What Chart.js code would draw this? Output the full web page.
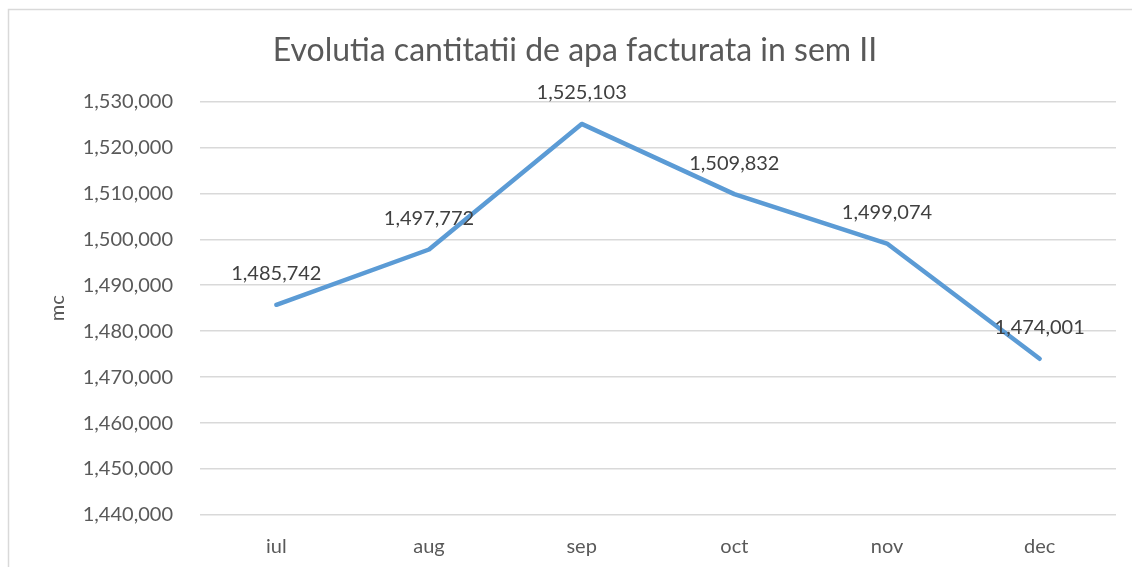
<!DOCTYPE html>
<html>
<head>
<meta charset="utf-8">
<script src="https://cdn.jsdelivr.net/npm/chart.js@4"></script>
<style>
    html, body { margin: 0; padding: 0; background: #fff; }
    #wrap { width: 1132px; height: 567px; }
</style>
</head>
<body>
<div id="wrap"><canvas id="waterChart" width="1132" height="567"></canvas></div>
<script>
// Evolutia cantitatii de apa facturata - semestrul II

const months = ['iul', 'aug', 'sep', 'oct', 'nov', 'dec'];
const volumes = [1485742, 1497772, 1525103, 1509832, 1499074, 1474001];
const yMin = 1440000;
const yMax = 1530000;
const yStep = 10000;

const fmt = v => v.toLocaleString('en-US');

// frame around the chart, like the office chart border
const framePlugin = {
    id: 'frame',
    beforeDraw(chart) {
        const ctx = chart.ctx;
        ctx.save();
        ctx.strokeStyle = '#d9d9d9';
        ctx.lineWidth = 1.5;
        ctx.strokeRect(8.5, 9.5, chart.width + 20, chart.height + 20);
        ctx.restore();
    }
};

// value labels above each point
const valueLabels = {
    id: 'valueLabels',
    afterDatasetsDraw(chart) {
        const ctx = chart.ctx;
        const meta = chart.getDatasetMeta(0);
        ctx.save();
        ctx.font = '20px Lato';
        ctx.fillStyle = '#404040';
        ctx.textAlign = 'center';
        ctx.textBaseline = 'middle';
        meta.data.forEach((pt, i) => {
            ctx.fillText(fmt(chart.data.datasets[0].data[i]), pt.x, pt.y - 31);
        });
        ctx.restore();
    }
};

const ctx = document.getElementById('waterChart').getContext('2d');
new Chart(ctx, {
    type: 'line',
    data: {
        labels: months,
        datasets: [{
            label: 'mc',
            data: volumes,
            borderColor: '#5b9bd5',
            borderWidth: 4.5,
            pointRadius: 0,
            tension: 0,
            borderCapStyle: 'round',
            borderJoinStyle: 'round'
        }]
    },
    options: {
        responsive: false,
        animation: false,
        layout: { padding: { top: 0, right: 16, bottom: 0, left: 34 } },
        plugins: {
            legend: { display: false },
            tooltip: { enabled: false },
            title: {
                display: true,
                text: 'Evolutia cantitatii de apa facturata in sem II',
                color: '#595959',
                font: { family: 'Lato', size: 32, weight: 'normal' },
                padding: { top: 31, bottom: 32 }
            }
        },
        scales: {
            x: {
                offset: true,
                grid: { display: false },
                border: { display: false },
                ticks: { color: '#595959', font: { family: 'Lato', size: 20 }, padding: 12 },
                afterFit: s => { s.height = 52; }
            },
            y: {
                min: yMin,
                max: yMax,
                grid: { color: '#d9d9d9', lineWidth: 1.5, drawTicks: false },
                border: { display: false },
                ticks: {
                    stepSize: yStep,
                    color: '#595959',
                    font: { family: 'Lato', size: 20 },
                    padding: 27,
                    callback: v => fmt(v)
                },
                title: {
                    display: true,
                    text: 'mc',
                    color: '#595959',
                    font: { family: 'Lato', size: 20 },
                    padding: { top: 12, bottom: 0 }
                },
                afterFit: s => { s.width = 166; }
            }
        }
    },
    plugins: [framePlugin, valueLabels]
});
</script>
</body>
</html>
